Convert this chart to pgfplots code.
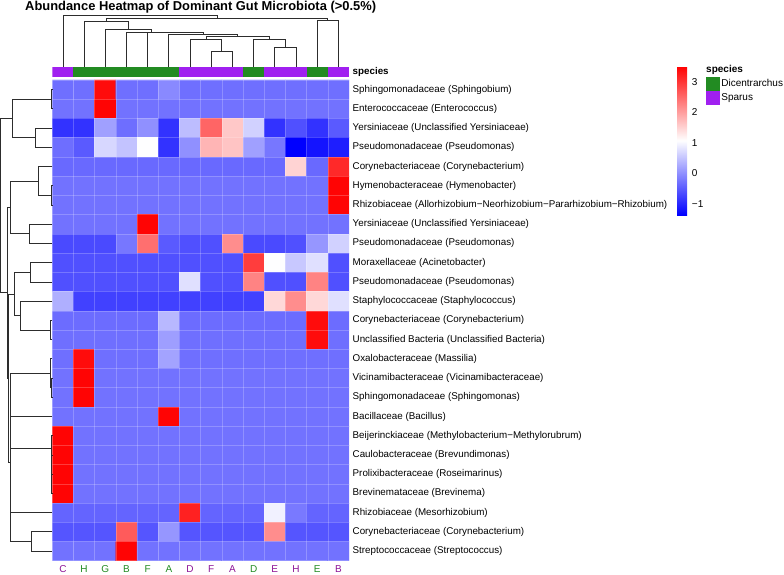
\documentclass[border=0pt]{standalone}
\usepackage{pgfplots}
\pgfplotsset{compat=1.18}
\usepackage{fontspec}
\setmainfont{Liberation Sans}
\definecolor{dic}{RGB}{34,139,34}
\definecolor{spa}{RGB}{160,32,240}
\definecolor{dicl}{RGB}{34,139,34}
\definecolor{spal}{RGB}{140,20,150}
\definecolor{dendro}{RGB}{45,45,45}
\begin{document}
\begin{tikzpicture}
\useasboundingbox (0pt,0pt) rectangle (784pt,-575pt);
\pgfplotsset{dend/.style={dendro, line width=0.75pt, mark=none}}

% heatmap, rows at y = -i
\begin{axis}[
  at={(52.3pt,-80pt)}, anchor=north west, scale only axis,
  width=296.7pt, height=480.7pt,
  xmin=-0.5, xmax=13.5, ymin=-24.5, ymax=0.5,
  axis line style={draw=none},
  colormap={bwr}{rgb255=(0,0,255) rgb255=(255,255,255) rgb255=(255,0,0)},
  point meta min=-1.36, point meta max=3.51,
  xtick={0,...,13},
  xticklabels={\textcolor{spal}{C},\textcolor{dicl}{H},\textcolor{dicl}{G},\textcolor{dicl}{B},\textcolor{dicl}{F},\textcolor{dicl}{A},\textcolor{spal}{D},\textcolor{spal}{F},\textcolor{spal}{A},\textcolor{dicl}{D},\textcolor{spal}{E},\textcolor{spal}{H},\textcolor{dicl}{E},\textcolor{spal}{B}},
  ytick={0,-1,...,-24},
  yticklabels={
    {Sphingomonadaceae (Sphingobium)},
    {Enterococcaceae (Enterococcus)},
    {Yersiniaceae (Unclassified Yersiniaceae)},
    {Pseudomonadaceae (Pseudomonas)},
    {Corynebacteriaceae (Corynebacterium)},
    {Hymenobacteraceae (Hymenobacter)},
    {Rhizobiaceae (Allorhizobium−Neorhizobium−Pararhizobium−Rhizobium)},
    {Yersiniaceae (Unclassified Yersiniaceae)},
    {Pseudomonadaceae (Pseudomonas)},
    {Moraxellaceae (Acinetobacter)},
    {Pseudomonadaceae (Pseudomonas)},
    {Staphylococcaceae (Staphylococcus)},
    {Corynebacteriaceae (Corynebacterium)},
    {Unclassified Bacteria (Unclassified Bacteria)},
    {Oxalobacteraceae (Massilia)},
    {Vicinamibacteraceae (Vicinamibacteraceae)},
    {Sphingomonadaceae (Sphingomonas)},
    {Bacillaceae (Bacillus)},
    {Beijerinckiaceae (Methylobacterium−Methylorubrum)},
    {Caulobacteraceae (Brevundimonas)},
    {Prolixibacteraceae (Roseimarinus)},
    {Brevinemataceae (Brevinema)},
    {Rhizobiaceae (Mesorhizobium)},
    {Corynebacteriaceae (Corynebacterium)},
    {Streptococcaceae (Streptococcus)}},
  yticklabel pos=right, major tick length=0pt, minor tick length=0pt,
  xticklabel style={font=\fontsize{10}{12}\selectfont, anchor=north, inner sep=0pt, yshift=-5pt},
  yticklabel style={font=\fontsize{9.8}{11}\selectfont, anchor=west, inner sep=0pt, xshift=3.5pt},
  minor xtick={-0.5,0.5,...,13.5}, minor ytick={0.5,-0.5,...,-24.5},
  grid=minor, minor grid style={white, line width=0.4pt, opacity=0.22},
  axis on top,
  colorbar,
  colorbar style={
    at={(parent axis.north east)}, anchor=north west,
    xshift=319.7pt, yshift=14pt,
    scale only axis, width=10pt, height=149pt,
    axis line style={draw=none}, major tick length=0pt,
    ytick={-1,0,1,2,3}, yticklabels={−1,0,1,2,3},
    yticklabel style={font=\fontsize{10}{12}\selectfont, inner sep=0pt, xshift=4.5pt, anchor=west},
  },
]
\addplot[matrix plot*, mesh/cols=14, point meta=explicit] coordinates {
(0,0)[-0.30] (1,0)[-0.30] (2,0)[3.40] (3,0)[-0.30] (4,0)[-0.30] (5,0)[-0.05] (6,0)[-0.30] (7,0)[-0.30] (8,0)[-0.30] (9,0)[-0.30] (10,0)[-0.30] (11,0)[-0.30] (12,0)[-0.30] (13,0)[-0.30]
(0,-1)[-0.27] (1,-1)[-0.27] (2,-1)[3.47] (3,-1)[-0.27] (4,-1)[-0.27] (5,-1)[-0.27] (6,-1)[-0.27] (7,-1)[-0.27] (8,-1)[-0.27] (9,-1)[-0.27] (10,-1)[-0.27] (11,-1)[-0.27] (12,-1)[-0.27] (13,-1)[-0.27]
(0,-2)[-0.88] (1,-2)[-0.88] (2,-2)[0.17] (3,-2)[-0.31] (4,-2)[0.02] (5,-2)[-0.88] (6,-2)[0.45] (7,-2)[2.55] (8,-2)[1.60] (9,-2)[0.64] (10,-2)[-0.88] (11,-2)[-0.60] (12,-2)[-0.88] (13,-2)[-0.50]
(0,-3)[-0.31] (1,-3)[-0.50] (2,-3)[0.69] (3,-3)[0.50] (4,-3)[1.07] (5,-3)[-0.88] (6,-3)[0.02] (7,-3)[1.78] (8,-3)[1.64] (9,-3)[0.17] (10,-3)[-0.22] (11,-3)[-1.36] (12,-3)[-1.17] (13,-3)[-1.07]
(0,-4)[-0.36] (1,-4)[-0.36] (2,-4)[-0.36] (3,-4)[-0.36] (4,-4)[-0.36] (5,-4)[-0.36] (6,-4)[-0.36] (7,-4)[-0.36] (8,-4)[-0.36] (9,-4)[-0.36] (10,-4)[-0.36] (11,-4)[1.50] (12,-4)[-0.36] (13,-4)[3.12]
(0,-5)[-0.27] (1,-5)[-0.27] (2,-5)[-0.27] (3,-5)[-0.27] (4,-5)[-0.27] (5,-5)[-0.27] (6,-5)[-0.27] (7,-5)[-0.27] (8,-5)[-0.27] (9,-5)[-0.27] (10,-5)[-0.27] (11,-5)[-0.27] (12,-5)[-0.27] (13,-5)[3.47]
(0,-6)[-0.27] (1,-6)[-0.27] (2,-6)[-0.27] (3,-6)[-0.27] (4,-6)[-0.27] (5,-6)[-0.27] (6,-6)[-0.27] (7,-6)[-0.27] (8,-6)[-0.27] (9,-6)[-0.27] (10,-6)[-0.27] (11,-6)[-0.27] (12,-6)[-0.27] (13,-6)[3.47]
(0,-7)[-0.27] (1,-7)[-0.27] (2,-7)[-0.27] (3,-7)[-0.27] (4,-7)[3.47] (5,-7)[-0.27] (6,-7)[-0.27] (7,-7)[-0.27] (8,-7)[-0.27] (9,-7)[-0.27] (10,-7)[-0.27] (11,-7)[-0.27] (12,-7)[-0.27] (13,-7)[-0.27]
(0,-8)[-0.65] (1,-8)[-0.65] (2,-8)[-0.65] (3,-8)[-0.22] (4,-8)[2.45] (5,-8)[-0.50] (6,-8)[-0.60] (7,-8)[-0.60] (8,-8)[2.17] (9,-8)[-0.65] (10,-8)[-0.65] (11,-8)[-0.60] (12,-8)[0.07] (13,-8)[0.64]
(0,-9)[-0.60] (1,-9)[-0.60] (2,-9)[-0.60] (3,-9)[-0.60] (4,-9)[-0.60] (5,-9)[-0.60] (6,-9)[-0.60] (7,-9)[-0.60] (8,-9)[-0.60] (9,-9)[2.93] (10,-9)[1.07] (11,-9)[0.55] (12,-9)[0.78] (13,-9)[-0.60]
(0,-10)[-0.60] (1,-10)[-0.60] (2,-10)[-0.60] (3,-10)[-0.60] (4,-10)[-0.60] (5,-10)[-0.60] (6,-10)[0.78] (7,-10)[-0.60] (8,-10)[-0.60] (9,-10)[2.26] (10,-10)[-0.60] (11,-10)[-0.60] (12,-10)[2.26] (13,-10)[-0.60]
(0,-11)[0.31] (1,-11)[-0.74] (2,-11)[-0.74] (3,-11)[-0.74] (4,-11)[-0.74] (5,-11)[-0.74] (6,-11)[-0.74] (7,-11)[-0.74] (8,-11)[-0.74] (9,-11)[-0.74] (10,-11)[1.45] (11,-11)[2.17] (12,-11)[1.45] (13,-11)[0.78]
(0,-12)[-0.33] (1,-12)[-0.33] (2,-12)[-0.33] (3,-12)[-0.33] (4,-12)[-0.33] (5,-12)[0.40] (6,-12)[-0.33] (7,-12)[-0.33] (8,-12)[-0.33] (9,-12)[-0.33] (10,-12)[-0.33] (11,-12)[-0.33] (12,-12)[3.40] (13,-12)[-0.33]
(0,-13)[-0.30] (1,-13)[-0.30] (2,-13)[-0.30] (3,-13)[-0.30] (4,-13)[-0.30] (5,-13)[0.15] (6,-13)[-0.30] (7,-13)[-0.30] (8,-13)[-0.30] (9,-13)[-0.30] (10,-13)[-0.30] (11,-13)[-0.30] (12,-13)[3.40] (13,-13)[-0.30]
(0,-14)[-0.30] (1,-14)[3.40] (2,-14)[-0.30] (3,-14)[-0.30] (4,-14)[-0.30] (5,-14)[0.20] (6,-14)[-0.30] (7,-14)[-0.30] (8,-14)[-0.30] (9,-14)[-0.30] (10,-14)[-0.30] (11,-14)[-0.30] (12,-14)[-0.30] (13,-14)[-0.30]
(0,-15)[-0.27] (1,-15)[3.47] (2,-15)[-0.27] (3,-15)[-0.27] (4,-15)[-0.27] (5,-15)[-0.27] (6,-15)[-0.27] (7,-15)[-0.27] (8,-15)[-0.27] (9,-15)[-0.27] (10,-15)[-0.27] (11,-15)[-0.27] (12,-15)[-0.27] (13,-15)[-0.27]
(0,-16)[-0.27] (1,-16)[3.47] (2,-16)[-0.27] (3,-16)[-0.27] (4,-16)[-0.27] (5,-16)[-0.27] (6,-16)[-0.27] (7,-16)[-0.27] (8,-16)[-0.27] (9,-16)[-0.27] (10,-16)[-0.27] (11,-16)[-0.27] (12,-16)[-0.27] (13,-16)[-0.27]
(0,-17)[-0.27] (1,-17)[-0.27] (2,-17)[-0.27] (3,-17)[-0.27] (4,-17)[-0.27] (5,-17)[3.47] (6,-17)[-0.27] (7,-17)[-0.27] (8,-17)[-0.27] (9,-17)[-0.27] (10,-17)[-0.27] (11,-17)[-0.27] (12,-17)[-0.27] (13,-17)[-0.27]
(0,-18)[3.47] (1,-18)[-0.27] (2,-18)[-0.27] (3,-18)[-0.27] (4,-18)[-0.27] (5,-18)[-0.27] (6,-18)[-0.27] (7,-18)[-0.27] (8,-18)[-0.27] (9,-18)[-0.27] (10,-18)[-0.27] (11,-18)[-0.27] (12,-18)[-0.27] (13,-18)[-0.27]
(0,-19)[3.47] (1,-19)[-0.27] (2,-19)[-0.27] (3,-19)[-0.27] (4,-19)[-0.27] (5,-19)[-0.27] (6,-19)[-0.27] (7,-19)[-0.27] (8,-19)[-0.27] (9,-19)[-0.27] (10,-19)[-0.27] (11,-19)[-0.27] (12,-19)[-0.27] (13,-19)[-0.27]
(0,-20)[3.47] (1,-20)[-0.27] (2,-20)[-0.27] (3,-20)[-0.27] (4,-20)[-0.27] (5,-20)[-0.27] (6,-20)[-0.27] (7,-20)[-0.27] (8,-20)[-0.27] (9,-20)[-0.27] (10,-20)[-0.27] (11,-20)[-0.27] (12,-20)[-0.27] (13,-20)[-0.27]
(0,-21)[3.47] (1,-21)[-0.27] (2,-21)[-0.27] (3,-21)[-0.27] (4,-21)[-0.27] (5,-21)[-0.27] (6,-21)[-0.27] (7,-21)[-0.27] (8,-21)[-0.27] (9,-21)[-0.27] (10,-21)[-0.27] (11,-21)[-0.27] (12,-21)[-0.27] (13,-21)[-0.27]
(0,-22)[-0.40] (1,-22)[-0.40] (2,-22)[-0.40] (3,-22)[-0.40] (4,-22)[-0.40] (5,-22)[-0.40] (6,-22)[3.20] (7,-22)[-0.40] (8,-22)[-0.40] (9,-22)[-0.40] (10,-22)[0.94] (11,-22)[-0.20] (12,-22)[-0.40] (13,-22)[-0.40]
(0,-23)[-0.55] (1,-23)[-0.55] (2,-23)[-0.55] (3,-23)[2.64] (4,-23)[-0.55] (5,-23)[0.07] (6,-23)[-0.55] (7,-23)[-0.55] (8,-23)[-0.55] (9,-23)[-0.55] (10,-23)[2.17] (11,-23)[-0.55] (12,-23)[-0.55] (13,-23)[-0.55]
(0,-24)[-0.27] (1,-24)[-0.27] (2,-24)[-0.27] (3,-24)[3.47] (4,-24)[-0.27] (5,-24)[-0.27] (6,-24)[-0.27] (7,-24)[-0.27] (8,-24)[-0.27] (9,-24)[-0.27] (10,-24)[-0.27] (11,-24)[-0.27] (12,-24)[-0.27] (13,-24)[-0.27]
};
\end{axis}

% species annotation bar
\begin{axis}[
  at={(52.3pt,-67.3pt)}, anchor=north west, scale only axis,
  width=296.7pt, height=10pt,
  xmin=-0.5, xmax=13.5, ymin=0, ymax=1,
  axis line style={draw=none},
  xtick=\empty, ytick={0.5}, yticklabels={\textbf{species}},
  yticklabel pos=right, major tick length=0pt, minor tick length=0pt,
  yticklabel style={font=\fontsize{9.8}{11}\selectfont, anchor=west, inner sep=0pt, xshift=3.5pt},
  minor xtick={-0.5,0.5,...,13.5},
  grid=minor, minor grid style={white, line width=0.4pt, opacity=0.22},
  axis on top,
  legend style={at={(2.203,0.06)}, anchor=north west, draw=none, fill=none,
    inner sep=0pt, row sep=0pt, font=\fontsize{10}{12}\selectfont,
    nodes={inner sep=1.2pt}},
  legend cell align=left,
  legend image code/.code={\fill[#1] (0pt,-7pt) rectangle (14pt,7pt);},
]
\addplot[fill=spa, draw=none, forget plot] coordinates {(-0.5,1) (0.5,1)} \closedcycle;
\addplot[fill=dic, draw=none, forget plot] coordinates {(0.5,1) (5.5,1)} \closedcycle;
\addplot[fill=spa, draw=none, forget plot] coordinates {(5.5,1) (8.5,1)} \closedcycle;
\addplot[fill=dic, draw=none, forget plot] coordinates {(8.5,1) (9.5,1)} \closedcycle;
\addplot[fill=spa, draw=none, forget plot] coordinates {(9.5,1) (11.5,1)} \closedcycle;
\addplot[fill=dic, draw=none, forget plot] coordinates {(11.5,1) (12.5,1)} \closedcycle;
\addplot[fill=spa, draw=none, forget plot] coordinates {(12.5,1) (13.5,1)} \closedcycle;
\addlegendimage{fill=dic, draw=none}
\addlegendentry{Dicentrarchus}
\addlegendimage{fill=spa, draw=none}
\addlegendentry{Sparus}
\end{axis}

% row dendrogram
\begin{axis}[
  at={(0pt,-80pt)}, anchor=north west, scale only axis,
  width=52.3pt, height=480.7pt,
  xmin=0, xmax=52.3, ymin=-24.5, ymax=0.5,
  hide axis, clip=false,
]
\addplot[dend] coordinates {(52.3,0) (51.5,0) (51.5,-1) (52.3,-1)};
\addplot[dend] coordinates {(52.3,-2) (35,-2) (35,-3) (52.3,-3)};
\addplot[dend] coordinates {(51.5,-0.5) (12.7,-0.5) (12.7,-2.5) (35,-2.5)};
\addplot[dend] coordinates {(52.3,-5) (51.5,-5) (51.5,-6) (52.3,-6)};
\addplot[dend] coordinates {(52.3,-4) (38,-4) (38,-5.5) (51.5,-5.5)};
\addplot[dend] coordinates {(52.3,-7) (29.3,-7) (29.3,-8) (52.3,-8)};
\addplot[dend] coordinates {(38,-4.75) (10.7,-4.75) (10.7,-7.5) (29.3,-7.5)};
\addplot[dend] coordinates {(52.3,-9) (30.7,-9) (30.7,-10) (52.3,-10)};
\addplot[dend] coordinates {(52.3,-12) (50,-12) (50,-13) (52.3,-13)};
\addplot[dend] coordinates {(52.3,-11) (20.7,-11) (20.7,-12.5) (50,-12.5)};
\addplot[dend] coordinates {(30.7,-9.5) (14,-9.5) (14,-11.75) (20.7,-11.75)};
\addplot[dend] coordinates {(52.3,-15) (51.5,-15) (51.5,-16) (52.3,-16)};
\addplot[dend] coordinates {(52.3,-14) (50,-14) (50,-15.5) (51.5,-15.5)};
\addplot[dend] coordinates {(52.3,-18) (51.5,-18) (51.5,-21) (52.3,-21)};
\addplot[dend] coordinates {(51.5,-19) (52.3,-19)};
\addplot[dend] coordinates {(51.5,-20) (52.3,-20)};
\addplot[dend] coordinates {(52.3,-23) (31.7,-23) (31.7,-24) (52.3,-24)};
\addplot[dend] coordinates {(50,-14.75) (10,-14.75) (10,-23.5) (31.7,-23.5)};
\addplot[dend] coordinates {(10,-17) (52.3,-17)};
\addplot[dend] coordinates {(10,-18.65) (51.5,-18.65)};
\addplot[dend] coordinates {(10,-22) (52.3,-22)};
\addplot[dend] coordinates {(14,-10.625) (8,-10.625) (8,-19.4) (10,-19.4)};
\addplot[dend] coordinates {(10.7,-6.125) (7.3,-6.125) (7.3,-15.0) (8,-15.0)};
\addplot[dend] coordinates {(12.7,-1.5) (0.5,-1.5) (0.5,-10.56) (7.3,-10.56)};
\end{axis}

% column dendrogram
\begin{axis}[
  at={(52.3pt,-67pt)}, anchor=south west, scale only axis,
  width=296.7pt, height=53pt,
  xmin=-0.5, xmax=13.5, ymin=0, ymax=53,
  hide axis, clip=false,
  title={Abundance Heatmap of Dominant Gut Microbiota (>0.5\%)},
  title style={at={(0.5,1)}, anchor=base, yshift=-2.7pt, font=\bfseries\fontsize{12.9}{14}\selectfont},
]
\addplot[dend] coordinates {(7,0) (7,15.3) (8,15.3) (8,0)};
\addplot[dend] coordinates {(6,0) (6,27.5) (7.5,27.5) (7.5,15.3)};
\addplot[dend] coordinates {(10,0) (10,19.7) (11,19.7) (11,0)};
\addplot[dend] coordinates {(9,0) (9,28) (10.5,28) (10.5,19.7)};
\addplot[dend] coordinates {(6.75,27.5) (6.75,31) (9.75,31) (9.75,28)};
\addplot[dend] coordinates {(5,0) (5,32.7) (8.25,32.7) (8.25,31)};
\addplot[dend] coordinates {(4,0) (4,34.3) (6.625,34.3) (6.625,32.7)};
\addplot[dend] coordinates {(3,0) (3,34.7) (5.3125,34.7) (5.3125,34.3)};
\addplot[dend] coordinates {(2,0) (2,38) (4.156,38) (4.156,34.7)};
\addplot[dend] coordinates {(1,0) (1,45.3) (3.078,45.3) (3.078,38)};
\addplot[dend] coordinates {(12,0) (12,46.3) (13,46.3) (13,0)};
\addplot[dend] coordinates {(2.039,45.3) (2.039,48.7) (12.5,48.7) (12.5,46.3)};
\addplot[dend] coordinates {(0,0) (0,52) (7.27,52) (7.27,48.7)};
\end{axis}

\node[anchor=base west, inner sep=0pt, font=\bfseries\fontsize{10}{12}\selectfont] at (706pt,-73pt) {species};
\end{tikzpicture}
\end{document}
